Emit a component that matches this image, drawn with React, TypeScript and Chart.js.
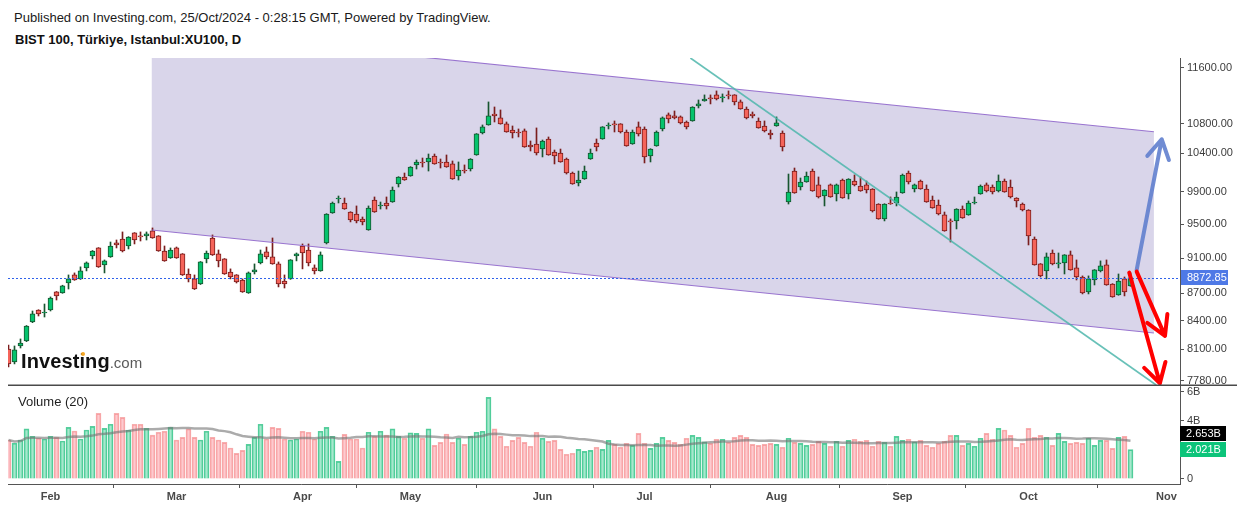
import React, { useEffect, useRef } from "react";
import { Chart, registerables } from "chart.js";

Chart.register(...registerables);
Chart.defaults.font.family = '"Liberation Sans", Arial, sans-serif';

// ---------- data (BIST 100 daily, 23 Jan 2024 .. 24 Oct 2024, bar index 0..187) ----------
const OPEN = [
  8104, 7971, 8135, 8187, 8388, 8517, 8485, 8517, 8715, 8704, 8815, 8906, 8861, 8986, 9124, 9218, 9021, 9113, 9277, 9324,
  9241, 9396, 9360, 9360, 9420, 9360, 9182, 9101, 9218, 9148, 8917, 8861, 8804, 9090, 9336, 9148, 9090, 8940, 8906, 8849,
  8704, 8940, 9044, 9171, 9113, 9032, 8838, 8861, 9124, 9241, 9194, 8986, 8952, 9277, 9638, 9812, 9762, 9650, 9626, 9565,
  9432, 9799, 9725, 9762, 9774, 10001, 10091, 10104, 10247, 10286, 10286, 10365, 10286, 10286, 10260, 10104, 10181, 10194, 10378, 10673,
  10783, 10935, 10880, 10797, 10714, 10687, 10701, 10511, 10524, 10457, 10592, 10418, 10404, 10325, 10142, 10014, 10065, 10325, 10538, 10592,
  10769, 10797, 10797, 10687, 10524, 10756, 10728, 10365, 10498, 10728, 10922, 10908, 10894, 10824, 10838, 11047, 11118, 11161, 11204, 11161,
  11204, 11204, 11104, 11005, 10935, 10838, 10769, 10673, 10769, 10673, 9774, 10168, 9963, 10027, 10168, 9989, 9849, 9989, 9875, 10052,
  9875, 10039, 9976, 9989, 9938, 9749, 9565, 9762, 9762, 9887, 10142, 9938, 10039, 9938, 9799, 9737, 9614, 9541, 9541, 9687,
  9614, 9762, 9875, 9989, 9963, 9912, 10039, 9963, 9824, 9749, 9675, 9324, 9032, 8952, 9159, 9032, 9044, 9136, 8986, 8883,
  8715, 8849, 8952, 9021, 8804, 8682, 8861, 8782,
];
const HIGH = [
  8145, 8135, 8208, 8350, 8506, 8520, 8582, 8660, 8720, 8790, 8906, 8929, 8998, 9055, 9188, 9222, 9078, 9288, 9312, 9408,
  9352, 9400, 9408, 9408, 9456, 9364, 9241, 9218, 9229, 9152, 8975, 8906, 9060, 9182, 9372, 9194, 9094, 8975, 8910, 8861,
  8940, 9032, 9194, 9229, 9336, 9055, 8906, 9082, 9159, 9265, 9265, 9021, 9171, 9630, 9774, 9849, 9824, 9654, 9725, 9589,
  9725, 9837, 9774, 9837, 9963, 10095, 10142, 10225, 10312, 10338, 10391, 10391, 10325, 10378, 10299, 10286, 10247, 10330, 10665, 10783,
  11104, 11033, 10991, 10824, 10769, 10728, 10728, 10565, 10742, 10578, 10619, 10444, 10457, 10338, 10155, 10168, 10233, 10457, 10592, 10760,
  10811, 10838, 10801, 10714, 10714, 10824, 10756, 10462, 10701, 10894, 10949, 10977, 10908, 10838, 11037, 11132, 11204, 11204, 11261, 11218,
  11261, 11208, 11132, 11033, 10963, 10880, 10838, 10714, 10894, 10701, 10129, 10207, 10078, 10155, 10194, 10091, 9929, 10001, 10001, 10065,
  10069, 10117, 10091, 10039, 9942, 9753, 9753, 9837, 9900, 10129, 10168, 10001, 10052, 9989, 9849, 9799, 9650, 9565, 9691, 9725,
  9787, 9837, 9989, 10014, 9989, 10117, 10065, 10052, 9828, 9762, 9679, 9348, 9036, 9159, 9194, 9159, 9140, 9182, 9078, 8895,
  8895, 8967, 9067, 9078, 8808, 8917, 8883, 8929,
];
const LOW = [
  7920, 7951, 8114, 8180, 8380, 8452, 8441, 8506, 8626, 8700, 8748, 8845, 8855, 8952, 9090, 8992, 8929, 9108, 9218, 9171,
  9206, 9265, 9300, 9312, 9332, 9178, 9062, 9096, 9096, 8900, 8827, 8742, 8798, 9044, 9130, 8998, 8912, 8861, 8815, 8710,
  8699, 8917, 9032, 9090, 9028, 8771, 8759, 8856, 9067, 8975, 9009, 8917, 8948, 9265, 9634, 9762, 9683, 9529, 9517, 9493,
  9428, 9646, 9687, 9687, 9770, 9963, 10048, 10100, 10194, 10220, 10168, 10256, 10207, 10216, 10060, 10052, 10142, 10168, 10374, 10660,
  10779, 10824, 10793, 10683, 10605, 10619, 10480, 10431, 10378, 10352, 10374, 10260, 10282, 10129, 9997, 9976, 10060, 10320, 10431, 10588,
  10728, 10687, 10673, 10494, 10520, 10632, 10273, 10286, 10494, 10701, 10811, 10866, 10797, 10728, 10834, 11019, 11114, 11076, 11132, 11104,
  11146, 11062, 11001, 10866, 10880, 10738, 10687, 10592, 10765, 10431, 9749, 9883, 9925, 10023, 9908, 9824, 9725, 9833, 9787, 9820,
  9812, 9976, 9908, 9887, 9650, 9561, 9541, 9745, 9725, 9883, 10001, 9900, 9934, 9770, 9696, 9614, 9416, 9288, 9444, 9573,
  9610, 9749, 9871, 9900, 9875, 9900, 9896, 9824, 9712, 9663, 9253, 9017, 8883, 8861, 9021, 8986, 8917, 8959, 8849, 8693,
  8693, 8793, 8940, 8789, 8656, 8678, 8671, 8778,
];
const CLOSE = [
  7951, 8094, 8166, 8345, 8474, 8474, 8495, 8648, 8671, 8782, 8861, 8849, 8952, 9044, 9182, 8998, 9067, 9241, 9253, 9182,
  9348, 9312, 9348, 9384, 9336, 9182, 9067, 9194, 9101, 8906, 8861, 8748, 9055, 9159, 9136, 9067, 8917, 8883, 8827, 8715,
  8929, 8963, 9148, 9113, 9032, 8804, 8804, 9078, 9148, 9159, 9044, 8952, 9136, 9626, 9762, 9824, 9687, 9553, 9541, 9529,
  9700, 9650, 9737, 9725, 9925, 10091, 10052, 10220, 10286, 10273, 10338, 10260, 10273, 10220, 10065, 10181, 10168, 10325, 10660, 10756,
  10908, 10908, 10797, 10687, 10673, 10673, 10484, 10484, 10404, 10565, 10378, 10365, 10286, 10142, 10001, 10052, 10168, 10404, 10484, 10756,
  10783, 10783, 10687, 10498, 10687, 10660, 10352, 10457, 10687, 10880, 10866, 10880, 10811, 10756, 11033, 11076, 11146, 11146, 11146, 11175,
  11189, 11104, 11005, 10880, 10908, 10742, 10701, 10646, 10811, 10484, 9900, 9887, 10027, 10104, 9912, 9837, 9925, 9837, 9989, 9824,
  10065, 9989, 9912, 9925, 9663, 9565, 9749, 9749, 9837, 10117, 10027, 9989, 9938, 9774, 9700, 9626, 9420, 9529, 9687, 9577,
  9762, 9774, 9976, 9912, 9900, 10039, 9900, 9837, 9787, 9675, 9360, 9021, 8895, 9113, 9032, 9044, 9136, 8963, 8883, 8704,
  8861, 8963, 9009, 8793, 8660, 8838, 8715, 8872.85,
];
// volume in billions
const VOLUME = [
  2.68, 2.47, 2.68, 3.44, 2.93, 2.80, 2.75, 2.93, 2.86, 2.61, 3.55, 3.30, 2.75, 3.37, 3.62, 4.51, 3.48, 3.76, 4.51, 4.24,
  3.37, 3.76, 3.76, 3.48, 3.02, 3.21, 3.28, 3.55, 2.68, 2.86, 3.44, 2.86, 2.68, 3.28, 2.86, 2.68, 2.52, 2.13, 1.76, 1.97,
  2.38, 2.86, 3.76, 2.75, 3.55, 3.48, 2.75, 2.68, 2.75, 3.28, 3.21, 2.75, 3.28, 3.55, 2.93, 1.21, 3.07, 2.75, 2.75, 2.13,
  3.21, 2.93, 3.28, 3.02, 3.44, 2.93, 2.80, 3.17, 3.14, 2.80, 3.44, 2.31, 2.52, 3.09, 2.52, 2.80, 2.38, 2.93, 3.21, 3.28,
  5.61, 3.44, 2.93, 2.25, 2.66, 2.86, 2.52, 2.25, 3.21, 2.80, 2.59, 2.66, 2.04, 1.70, 1.77, 2.04, 1.90, 1.97, 2.18, 2.04,
  2.66, 2.38, 2.18, 2.45, 2.31, 3.14, 2.45, 2.11, 2.45, 2.86, 2.66, 2.52, 2.38, 2.80, 3.00, 2.86, 2.56, 2.45, 2.73, 2.73,
  2.52, 2.86, 3.00, 2.86, 2.38, 2.31, 2.38, 2.45, 2.38, 2.18, 2.80, 2.52, 2.45, 2.31, 2.38, 2.59, 2.45, 2.25, 2.59, 2.25,
  2.66, 2.73, 2.59, 2.66, 2.25, 2.59, 2.52, 2.25, 2.93, 2.66, 2.73, 2.56, 2.66, 2.31, 2.18, 2.45, 2.59, 3.00, 3.00, 2.31,
  2.45, 2.25, 2.80, 3.14, 2.73, 3.48, 3.37, 3.00, 2.18, 2.45, 3.48, 2.86, 3.00, 2.86, 2.31, 3.14, 2.59, 2.45, 2.52, 2.45,
  2.80, 2.31, 2.66, 2.66, 2.11, 2.86, 2.93, 2.021,
];
const VOLUME_MA_LAST = 2.653; // value shown in the black axis label
const MA_LENGTH = 20;

const MONTH_LABELS = ["Feb", "Mar", "Apr", "May", "Jun", "Jul", "Aug", "Sep", "Oct", "Nov"];
const MONTH_INDEX = [7, 28, 49, 67, 89, 106, 128, 149, 170, 193];
const PRICE_TICKS = [11600, 10800, 10400, 9900, 9500, 9100, 8700, 8400, 8100, 7780];
const VOLUME_TICKS = [0, 4, 6];
const VOLUME_TICK_LABELS = ["0", "4B", "6B"];

// drawings, in (bar index, price) space
const CHANNEL_X = [23.87, 190.9];
const CHANNEL_UPPER = [12177, 10691];
const CHANNEL_LOWER = [9432, 8271];
const TREND_X = [113.65, 191.28];
const TREND_P = [11744, 7740];
const ARROW_UP_X = [188.03, 192.2];
const ARROW_UP_P = [8963, 10588];
const ARROW_DN1_X = [188.03, 192.75];
const ARROW_DN1_P = [8944, 8240];
const ARROW_DN2_X = [186.8, 191.9];
const ARROW_DN2_P = [8932, 7757];

// view ranges
const X_MIN = -0.0833;
const X_MAX = 195.25;
const PRICE_MIN = 7740;
const PRICE_MAX = 11744;
const VOL_MIN = -0.344;
const VOL_MAX = 6.392;

// ---------- styles ----------
const UP_FILL = "#05c36d";
const UP_LINE = "#17552f";
const DN_FILL = "#f5645a";
const DN_LINE = "#7a1d1d";
const VOL_UP_FILL = "rgba(34,197,130,0.40)";
const VOL_UP_LINE = "rgba(34,190,125,0.75)";
const VOL_DN_FILL = "rgba(247,82,95,0.30)";
const VOL_DN_LINE = "rgba(240,110,110,0.55)";
const AXIS = "#555555";
const LABEL = "#3c3c3c";
const FONT = '"Liberation Sans", Arial, sans-serif';

const idx = OPEN.map((_, i) => i);
const isUp = idx.map((i) => CLOSE[i] >= OPEN[i]);

const VOLUME_MA = idx.map((i) => {
  const s = Math.max(0, i - MA_LENGTH + 1);
  const w = VOLUME.slice(s, i + 1);
  return w.reduce((a, b) => a + b, 0) / w.length;
});

function drawArrow(ctx: CanvasRenderingContext2D, x1: number, y1: number, x2: number, y2: number, color: string, width: number) {
  const head = 22;
  const spread = Math.PI / 6;
  const ang = Math.atan2(y2 - y1, x2 - x1);
  ctx.strokeStyle = color;
  ctx.lineWidth = width;
  ctx.lineCap = "round";
  ctx.lineJoin = "round";
  ctx.setLineDash([]);
  ctx.beginPath();
  ctx.moveTo(x1, y1);
  ctx.lineTo(x2, y2);
  ctx.moveTo(x2 - head * Math.cos(ang - spread), y2 - head * Math.sin(ang - spread));
  ctx.lineTo(x2, y2);
  ctx.lineTo(x2 - head * Math.cos(ang + spread), y2 - head * Math.sin(ang + spread));
  ctx.stroke();
}

function valueBox(ctx: CanvasRenderingContext2D, x: number, yc: number, w: number, h: number, bg: string, text: string) {
  ctx.fillStyle = bg;
  ctx.fillRect(x, Math.round(yc - h / 2), w, h);
  ctx.fillStyle = "#ffffff";
  ctx.font = "11px " + FONT;
  ctx.textAlign = "left";
  ctx.textBaseline = "middle";
  ctx.fillText(text, x + 6, Math.round(yc - h / 2) + h / 2 + 0.5);
}

const priceDrawings = {
  id: "priceDrawings",
  beforeDatasetsDraw(chart: any) {
    const { ctx, chartArea: a, scales } = chart;
    const x = scales.x, y = scales.y;
    ctx.save();
    ctx.beginPath();
    ctx.rect(a.left, a.top, a.right - a.left, a.bottom - a.top);
    ctx.clip();
    ctx.fillStyle = "#d9d5ea";
    ctx.beginPath();
    ctx.moveTo(x.getPixelForValue(CHANNEL_X[0]), y.getPixelForValue(CHANNEL_UPPER[0]));
    ctx.lineTo(x.getPixelForValue(CHANNEL_X[1]), y.getPixelForValue(CHANNEL_UPPER[1]));
    ctx.lineTo(x.getPixelForValue(CHANNEL_X[1]), y.getPixelForValue(CHANNEL_LOWER[1]));
    ctx.lineTo(x.getPixelForValue(CHANNEL_X[0]), y.getPixelForValue(CHANNEL_LOWER[0]));
    ctx.closePath();
    ctx.fill();
    ctx.restore();
  },
  afterDatasetsDraw(chart: any) {
    const { ctx, chartArea: a, scales } = chart;
    const x = scales.x, y = scales.y;
    ctx.save();
    ctx.beginPath();
    ctx.rect(a.left, a.top, a.right - a.left, a.bottom - a.top);
    ctx.clip();
    // channel borders
    ctx.strokeStyle = "rgba(149,110,205,0.95)";
    ctx.lineWidth = 1.1;
    ctx.beginPath();
    ctx.moveTo(x.getPixelForValue(CHANNEL_X[0]), y.getPixelForValue(CHANNEL_UPPER[0]));
    ctx.lineTo(x.getPixelForValue(CHANNEL_X[1]), y.getPixelForValue(CHANNEL_UPPER[1]));
    ctx.moveTo(x.getPixelForValue(CHANNEL_X[0]), y.getPixelForValue(CHANNEL_LOWER[0]));
    ctx.lineTo(x.getPixelForValue(CHANNEL_X[1]), y.getPixelForValue(CHANNEL_LOWER[1]));
    ctx.stroke();
    // trend line
    ctx.strokeStyle = "rgba(77,182,172,0.85)";
    ctx.lineWidth = 1.7;
    ctx.beginPath();
    ctx.moveTo(x.getPixelForValue(TREND_X[0]), y.getPixelForValue(TREND_P[0]));
    ctx.lineTo(x.getPixelForValue(TREND_X[1]), y.getPixelForValue(TREND_P[1]));
    ctx.stroke();
    // last price dotted line
    const last = CLOSE[CLOSE.length - 1];
    const ly = Math.round(y.getPixelForValue(last)) + 0.5;
    ctx.strokeStyle = "#2f62ea";
    ctx.lineWidth = 1;
    ctx.setLineDash([2, 2]);
    ctx.beginPath();
    ctx.moveTo(a.left, ly);
    ctx.lineTo(a.right, ly);
    ctx.stroke();
    ctx.setLineDash([]);
    // arrows
    drawArrow(ctx, x.getPixelForValue(ARROW_UP_X[0]), y.getPixelForValue(ARROW_UP_P[0]), x.getPixelForValue(ARROW_UP_X[1]), y.getPixelForValue(ARROW_UP_P[1]), "rgba(96,128,206,0.9)", 4);
    drawArrow(ctx, x.getPixelForValue(ARROW_DN2_X[0]), y.getPixelForValue(ARROW_DN2_P[0]), x.getPixelForValue(ARROW_DN2_X[1]), y.getPixelForValue(ARROW_DN2_P[1]), "#ff0000", 4);
    drawArrow(ctx, x.getPixelForValue(ARROW_DN1_X[0]), y.getPixelForValue(ARROW_DN1_P[0]), x.getPixelForValue(ARROW_DN1_X[1]), y.getPixelForValue(ARROW_DN1_P[1]), "#ff0000", 4);
    ctx.restore();
  },
  afterDraw(chart: any) {
    const { ctx, chartArea: a, scales } = chart;
    const last = CLOSE[CLOSE.length - 1];
    const yc = scales.y.getPixelForValue(last);
    ctx.save();
    valueBox(ctx, a.right + 1, yc, 47, 15, "#4e79e6", last.toFixed(2));
    ctx.restore();
  },
};

const volumeDrawings = {
  id: "volumeDrawings",
  afterDraw(chart: any) {
    const { ctx, chartArea: a, scales } = chart;
    ctx.save();
    // pane separator
    ctx.strokeStyle = "#4a4a4a";
    ctx.lineWidth = 1.5;
    ctx.beginPath();
    ctx.moveTo(a.left, a.top - 0.75);
    ctx.lineTo(1237, a.top - 0.75);
    ctx.stroke();
    const h = 15;
    const gy = scales.y.getPixelForValue(VOLUME[VOLUME.length - 1]);
    const gTop = Math.round(gy - h / 2);
    const my = Math.min(scales.y.getPixelForValue(VOLUME_MA_LAST), gTop - 1 - h / 2);
    valueBox(ctx, a.right, my, 46, h, "#000000", VOLUME_MA_LAST.toFixed(3) + "B");
    valueBox(ctx, a.right, gy, 46, h, "#0cc47a", VOLUME[VOLUME.length - 1].toFixed(3) + "B");
    ctx.restore();
  },
};

export default function App() {
  const priceRef = useRef<HTMLCanvasElement>(null);
  const volRef = useRef<HTMLCanvasElement>(null);

  useEffect(() => {
    const priceChart = new Chart(priceRef.current as HTMLCanvasElement, {
      type: "bar",
      data: {
        datasets: [
          {
            label: "body",
            data: idx.map((i) => ({ x: i, y: [Math.min(OPEN[i], CLOSE[i]), Math.max(OPEN[i], CLOSE[i])] })) as any,
            backgroundColor: idx.map((i) => (isUp[i] ? UP_FILL : DN_FILL)),
            borderColor: idx.map((i) => (isUp[i] ? UP_LINE : DN_LINE)),
            borderWidth: 1,
            borderSkipped: false,
            barThickness: 5,
            grouped: false,
            order: 0,
          } as any,
          {
            label: "wick",
            data: idx.map((i) => ({ x: i, y: [LOW[i], HIGH[i]] })) as any,
            backgroundColor: idx.map((i) => (isUp[i] ? UP_LINE : DN_LINE)),
            borderWidth: 0,
            barThickness: 1,
            grouped: false,
            order: 1,
          } as any,
        ],
      },
      options: {
        responsive: false,
        animation: false,
        events: [],
        layout: { padding: { left: 8, top: 58, right: 0, bottom: 123 } },
        plugins: { legend: { display: false }, tooltip: { enabled: false } },
        scales: {
          x: { type: "linear", min: X_MIN, max: X_MAX, offset: false, display: false, bounds: "data" } as any,
          y: {
            type: "logarithmic",
            position: "right",
            min: PRICE_MIN,
            max: PRICE_MAX,
            bounds: "data",
            afterBuildTicks: (s: any) => {
              s.ticks = PRICE_TICKS.map((v) => ({ value: v }));
            },
            afterFit: (s: any) => {
              s.width = 64;
            },
            ticks: {
              autoSkip: false,
              padding: 3,
              color: LABEL,
              font: { size: 11 },
              callback: (v: any) => Number(v).toFixed(2),
            },
            grid: { drawOnChartArea: false, drawTicks: true, tickLength: 4, color: AXIS },
            border: { display: true, color: AXIS, width: 1 },
          } as any,
        },
      },
      plugins: [priceDrawings],
    });

    const volChart = new Chart(volRef.current as HTMLCanvasElement, {
      type: "bar",
      data: {
        datasets: [
          {
            type: "line",
            label: "Volume MA",
            data: idx.map((i) => ({ x: i, y: VOLUME_MA[i] })) as any,
            borderColor: "rgba(115,115,115,0.6)",
            borderWidth: 2.5,
            pointRadius: 0,
            tension: 0,
            order: 0,
          } as any,
          {
            type: "bar",
            label: "Volume",
            data: idx.map((i) => ({ x: i, y: VOLUME[i] })) as any,
            backgroundColor: idx.map((i) => (isUp[i] ? VOL_UP_FILL : VOL_DN_FILL)),
            borderColor: idx.map((i) => (isUp[i] ? VOL_UP_LINE : VOL_DN_LINE)),
            borderWidth: 1,
            borderSkipped: "bottom",
            barThickness: 5,
            grouped: false,
            order: 1,
          } as any,
        ],
      },
      options: {
        responsive: false,
        animation: false,
        events: [],
        layout: { padding: { left: 8, top: 386, right: 0, bottom: 0 } },
        plugins: { legend: { display: false }, tooltip: { enabled: false } },
        scales: {
          x: {
            type: "linear",
            min: X_MIN,
            max: X_MAX,
            offset: false,
            bounds: "data",
            afterBuildTicks: (s: any) => {
              s.ticks = MONTH_INDEX.map((v) => ({ value: v }));
            },
            afterFit: (s: any) => {
              s.height = 24;
            },
            ticks: {
              autoSkip: false,
              maxRotation: 0,
              padding: 2,
              color: "#4a4a4a",
              font: { size: 11, weight: "bold" },
              callback: (v: any) => {
                const k = MONTH_INDEX.indexOf(Number(v));
                return k >= 0 ? MONTH_LABELS[k] : "";
              },
            },
            grid: { drawOnChartArea: false, drawTicks: true, tickLength: 4, color: AXIS },
            border: { display: true, color: AXIS, width: 1 },
          } as any,
          y: {
            type: "linear",
            position: "right",
            min: VOL_MIN,
            max: VOL_MAX,
            bounds: "data",
            afterBuildTicks: (s: any) => {
              s.ticks = VOLUME_TICKS.map((v) => ({ value: v }));
            },
            afterFit: (s: any) => {
              s.width = 64;
            },
            ticks: {
              autoSkip: false,
              padding: 3,
              color: LABEL,
              font: { size: 11 },
              callback: (v: any) => {
                const k = VOLUME_TICKS.indexOf(Number(v));
                return k >= 0 ? VOLUME_TICK_LABELS[k] : "";
              },
            },
            grid: { drawOnChartArea: false, drawTicks: true, tickLength: 4, color: AXIS },
            border: { display: true, color: AXIS, width: 1 },
          } as any,
        },
      },
      plugins: [volumeDrawings],
    });

    return () => {
      priceChart.destroy();
      volChart.destroy();
    };
  }, []);

  const abs: React.CSSProperties = { position: "absolute", whiteSpace: "nowrap", fontFamily: FONT };

  return (
    <div style={{ position: "absolute", left: 0, top: 0, width: 1244, height: 508, background: "#ffffff", overflow: "hidden" }}>
      <div style={{ ...abs, left: 14, top: 10.5, fontSize: 13, lineHeight: "13px", color: "#1a1a1a" }}>
        Published on Investing.com, 25/Oct/2024 - 0:28:15 GMT, Powered by TradingView.
      </div>
      <div style={{ ...abs, left: 15, top: 33.3, fontSize: 13, lineHeight: "13px", fontWeight: "bold", color: "#111111" }}>
        BIST 100, Türkiye, Istanbul:XU100, D
      </div>
      <canvas ref={priceRef} width={1244} height={508} style={{ position: "absolute", left: 0, top: 0, width: 1244, height: 508 }} />
      <canvas ref={volRef} width={1244} height={508} style={{ position: "absolute", left: 0, top: 0, width: 1244, height: 508 }} />
      <div style={{ ...abs, left: 18, top: 395.3, fontSize: 13, lineHeight: "13px", color: "#1f1f1f" }}>Volume (20)</div>
      <div style={{ ...abs, left: 21, top: 351, fontSize: 20, lineHeight: "20px", color: "#111111" }}>
        <span style={{ fontWeight: "bold", letterSpacing: 0.1 }}>Investing</span>
        <span style={{ fontSize: 15, color: "#5a5a5a" }}>.com</span>
      </div>
      <div style={{ position: "absolute", left: 80.5, top: 351.5, width: 4.5, height: 4.5, borderRadius: 3, background: "#f5a623" }} />
    </div>
  );
}
